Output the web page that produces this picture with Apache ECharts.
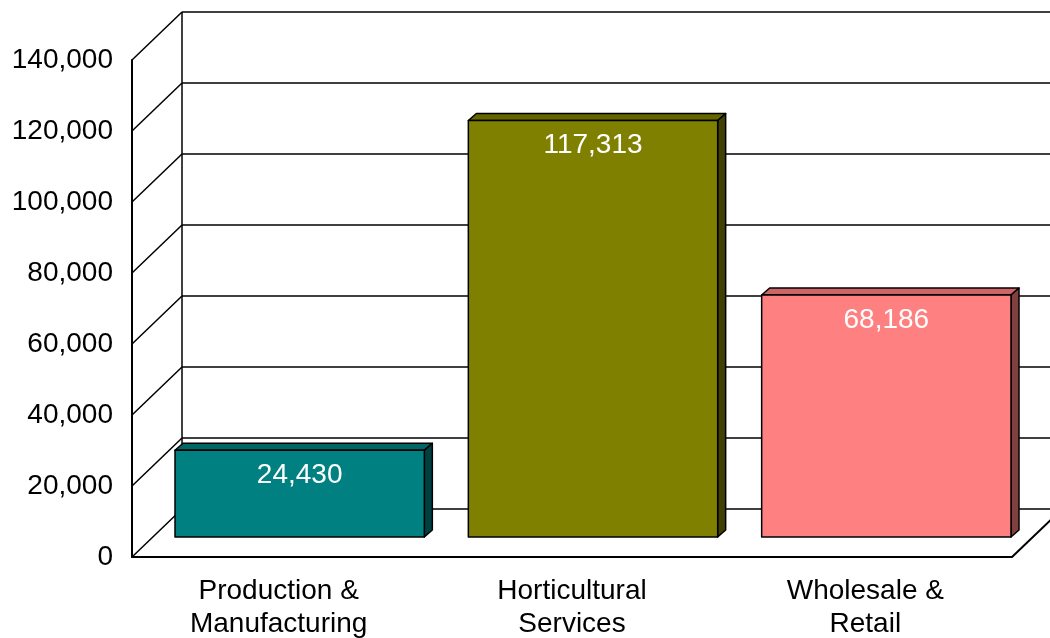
<!DOCTYPE html>
<html>
<head>
<meta charset="utf-8">
<script src="https://cdn.jsdelivr.net/npm/echarts@6/dist/echarts.min.js"></script>
<style>
html, body { margin: 0; padding: 0; background: #fff; }
#chart { width: 1050px; height: 638px; }
</style>
</head>
<body>
<div id="chart"></div>
<script>
// data
var categories = ['Production &\nManufacturing', 'Horticultural\nServices', 'Wholesale &\nRetail'];
var values = [24430, 117313, 68186];
var yTicks = [0, 20000, 40000, 60000, 80000, 100000, 120000, 140000];

// styles
var faceColors = ['#008080', '#808000', '#ff8080'];
var topColors = ['#006666', '#666600', '#cc6666'];
var sideColors = ['#004040', '#404000', '#804040'];
var DX = 50, DY = -48;      // wall depth
var BX = 21, BY = -20;      // bar front plane offset
var BDX = 8, BDY = -7;      // bar depth

function fmt(v) {
    return String(v).replace(/\B(?=(\d{3})+(?!\d))/g, ',');
}

var chart = echarts.init(document.getElementById('chart'));

var option = {
    animation: false,
    grid: { left: 132, right: 38, top: 60, bottom: 81, outerBoundsMode: 'none', containLabel: false },
    xAxis: {
        type: 'category',
        data: categories,
        axisLine: { show: true, lineStyle: { color: '#000', width: 2 } },
        axisTick: { show: false },
        axisLabel: {
            color: '#000', fontSize: 28, lineHeight: 33, margin: 18,
            fontFamily: 'Liberation Sans, Arial, sans-serif'
        },
        splitLine: { show: false }
    },
    yAxis: {
        type: 'value',
        min: 0, max: 140000, interval: 20000,
        axisLine: { show: true, lineStyle: { color: '#000', width: 2 } },
        axisTick: { show: false },
        splitLine: { show: false },
        axisLabel: {
            color: '#000', fontSize: 28, margin: 19,
            fontFamily: 'Liberation Sans, Arial, sans-serif',
            formatter: fmt
        }
    },
    series: [
        {
            // walls and gridlines
            type: 'custom',
            z: 1,
            data: yTicks.map(function (v) { return [0, v]; }),
            renderItem: function (params, api) {
                var cs = params.coordSys;
                var x0 = cs.x, x1 = cs.x + cs.width;
                var y = api.coord([0, api.value(1)])[1];
                var v = api.value(1);
                var children = [];
                var ls = { stroke: '#000', lineWidth: 1.5 };
                children.push({ type: 'line', shape: { x1: x0, y1: y, x2: x0 + DX, y2: y + DY }, style: ls });
                children.push({ type: 'line', shape: { x1: x0 + DX, y1: y + DY, x2: x1 + DX, y2: y + DY }, style: ls });
                if (v === 0) {
                    children.push({ type: 'line', shape: { x1: x1, y1: y, x2: x1 + DX, y2: y + DY }, style: { stroke: '#000', lineWidth: 2 } });
                    var yTop = api.coord([0, yTicks[yTicks.length - 1]])[1];
                    children.push({ type: 'line', shape: { x1: x0 + DX, y1: y + DY, x2: x0 + DX, y2: yTop + DY }, style: ls });
                }
                return { type: 'group', children: children };
            }
        },
        {
            // 3D bars
            type: 'custom',
            z: 5,
            data: values.map(function (v, i) { return [i, v]; }),
            renderItem: function (params, api) {
                var i = params.dataIndex;
                var base = api.coord([api.value(0), 0]);
                var top = api.coord([api.value(0), api.value(1)]);
                var bw = api.size([1, 0])[0] * 0.85;
                var x = base[0] - bw / 2 + BX;
                var yb = base[1] + BY;
                var yt = top[1] + BY;
                var edge = { stroke: '#000', lineWidth: 1.5, lineJoin: 'round' };
                return {
                    type: 'group',
                    children: [
                        {
                            type: 'polygon',
                            shape: { points: [[x, yt], [x + BDX, yt + BDY], [x + bw + BDX, yt + BDY], [x + bw, yt]] },
                            style: Object.assign({ fill: topColors[i] }, edge)
                        },
                        {
                            type: 'polygon',
                            shape: { points: [[x + bw, yt], [x + bw + BDX, yt + BDY], [x + bw + BDX, yb + BDY], [x + bw, yb]] },
                            style: Object.assign({ fill: sideColors[i] }, edge)
                        },
                        {
                            type: 'rect',
                            shape: { x: x, y: yt, width: bw, height: yb - yt },
                            style: Object.assign({ fill: faceColors[i] }, edge)
                        },
                        {
                            type: 'text',
                            x: x + bw / 2,
                            y: yt + 25,
                            style: {
                                text: fmt(api.value(1)),
                                fill: '#fff',
                                fontSize: 28,
                                fontFamily: 'Liberation Sans, Arial, sans-serif',
                                align: 'center',
                                verticalAlign: 'middle'
                            }
                        }
                    ]
                };
            }
        }
    ]
};

chart.setOption(option);
</script>
</body>
</html>
